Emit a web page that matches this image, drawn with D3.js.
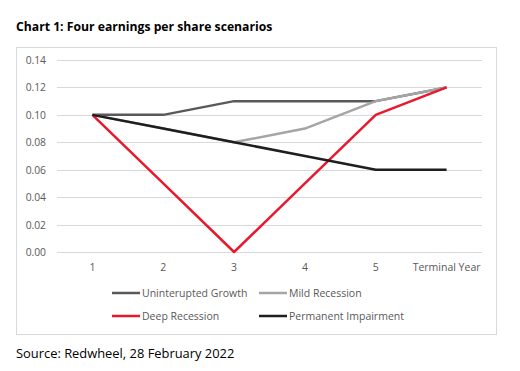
<!DOCTYPE html>
<html>
<head>
<meta charset="utf-8">
<script src="https://cdn.jsdelivr.net/npm/d3@7"></script>
<style>
  body { margin: 0; background: #fff; }
  svg { display: block; font-family: "Open Sans", "Noto Sans", sans-serif; }
</style>
</head>
<body>
<div id="chart"></div>
<script>
// Chart values
var categories = ["1", "2", "3", "4", "5", "Terminal Year"];
var seriesNames = ["Uninterupted Growth", "Mild Recession", "Deep Recession", "Permanent Impairment"];
var uninterupted = [0.10, 0.10, 0.11, 0.11, 0.11, 0.12];
var mild = [0.10, 0.09, 0.08, 0.09, 0.11, 0.12];
var deep = [0.10, 0.05, 0.00, 0.05, 0.10, 0.12];
var permanent = [0.10, 0.09, 0.08, 0.07, 0.06, 0.06];
var yTicks = [0, 0.02, 0.04, 0.06, 0.08, 0.10, 0.12, 0.14];

var colors = ["#595959", "#a5a5a5", "#e8192c", "#1e1e1e"];
var series = [uninterupted, mild, deep, permanent];

var svg = d3.select("#chart").append("svg").attr("width", 520).attr("height", 371);

// Title
svg.append("text").attr("x", 16).attr("y", 31)
  .attr("font-size", "12.2px").attr("font-weight", "bold").attr("fill", "#000")
  .text("Chart 1: Four earnings per share scenarios");

// Chart border
svg.append("rect").attr("x", 16.5).attr("y", 47.5).attr("width", 480).attr("height", 287)
  .attr("fill", "none").attr("stroke", "#d9d9d9");

var x = d3.scalePoint().domain(categories).range([57, 482]).padding(0.5);
var y = d3.scaleLinear().domain([0, 0.14]).range([252, 60]);

// Gridlines
svg.append("g").selectAll("line").data(yTicks).enter().append("line")
  .attr("x1", 57).attr("x2", 482)
  .attr("y1", function(d){ return Math.round(y(d)) + 0.5; })
  .attr("y2", function(d){ return Math.round(y(d)) + 0.5; })
  .attr("stroke", "#d9d9d9").attr("stroke-width", 1);

// Y labels
svg.append("g").selectAll("text").data(yTicks).enter().append("text")
  .attr("x", 46).attr("y", function(d){ return y(d) + 4; })
  .attr("text-anchor", "end").attr("font-size", "10.3px").attr("fill", "#595959")
  .text(d3.format(".2f"));

// X labels
svg.append("g").selectAll("text").data(categories).enter().append("text")
  .attr("x", function(d){ return x(d); }).attr("y", 271)
  .attr("text-anchor", "middle").attr("font-size", "10.5px").attr("fill", "#595959")
  .text(String);

// Lines
var line = d3.line()
  .x(function(d, i){ return x(categories[i]); })
  .y(function(d){ return y(d); });

svg.append("g").selectAll("path").data(series).enter().append("path")
  .attr("d", line)
  .attr("fill", "none")
  .attr("stroke", function(d, i){ return colors[i]; })
  .attr("stroke-width", 2.5)
  .attr("stroke-linejoin", "round");

// Legend
var legendPos = [[112, 293], [259, 293], [112, 316], [259, 316]];
var legend = svg.append("g").selectAll("g").data(seriesNames).enter().append("g")
  .attr("transform", function(d, i){ return "translate(" + legendPos[i][0] + "," + legendPos[i][1] + ")"; });
legend.append("line").attr("x1", 0).attr("x2", 28).attr("y1", 0).attr("y2", 0)
  .attr("stroke", function(d, i){ return colors[i]; }).attr("stroke-width", 2.5);
legend.append("text").attr("x", 30).attr("y", 4)
  .attr("font-size", "10.5px").attr("fill", "#595959").text(String);

// Source
svg.append("text").attr("x", 16).attr("y", 358)
  .attr("font-size", "12.9px").attr("fill", "#000")
  .text("Source: Redwheel, 28 February 2022");
</script>
</body>
</html>
